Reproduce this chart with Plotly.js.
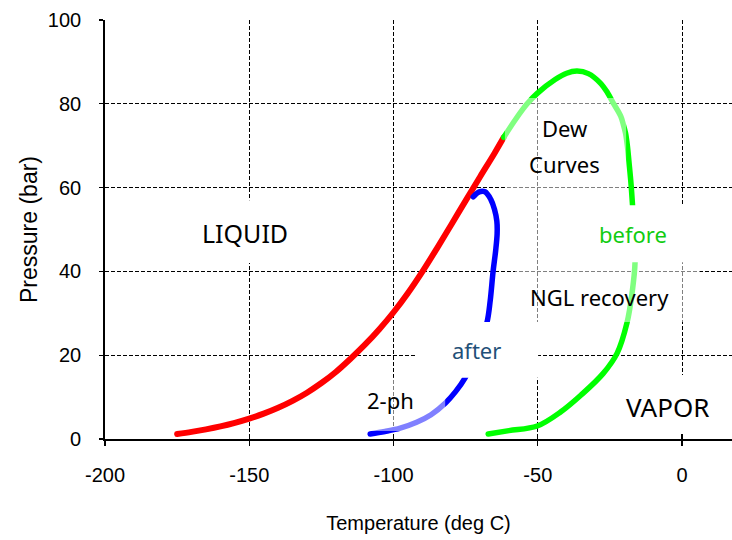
<!DOCTYPE html>
<html>
<head>
<meta charset="utf-8">
<script src="https://cdn.plot.ly/plotly-3.0.1.min.js"></script>
<style>
html,body{margin:0;padding:0;background:#fff;}
#chart{width:732px;height:540px;}
.scatterlayer path.js-line{stroke-linecap:round !important;stroke-linejoin:round !important;}
</style>
</head>
<body>
<div id="chart"></div>
<script>
// Bubble curve (before) - red
const bubbleT = [-175,-170,-165,-160,-155,-150,-145,-140,-135,-130,-125,-120,-115,-110,-105,-100,-95,-90,-85,-80,-75,-70,-65,-61.8];
const bubbleP = [1.2,1.7,2.3,3.0,3.85,4.85,6.05,7.45,9.1,11.05,13.35,16.0,19.1,22.45,26.15,30.25,34.85,39.95,45.45,51.15,56.9,62.6,68.2,72.0];
// Dew curve (before) - green
const dewT = [-67.2,-60,-50.2,-42,-35,-27.4,-22.5,-19.1,-17.3,-16.3,-16.7,-17.6,-18.4,-19.0,-19.6,-20.3,-21.3,-23.8,-25.9,-28.4,-32.5,-36.4,-40,-44,-50.2,-53.7,-57.5,-61.8];
const dewP = [1.2,2,3.1,6.5,10.5,15.6,20.5,27.7,35,42.2,50,60.1,66.1,70.2,73,74.9,77.1,80.1,82.7,85,87.2,87.8,87.3,85.8,82.5,80,76.5,72.0];
// Phase envelope after NGL recovery - blue
const afterT = [-108.1,-103,-97.7,-92,-87,-82,-78.5,-75.2,-72.5,-70,-67.6,-66.5,-65.5,-64.6,-64.1,-64.2,-65,-66.3,-68.3,-70.3,-72.4];
const afterP = [1.2,1.8,2.6,4,5.8,8.6,11.3,14.6,18.5,23,27.9,33,40,45,49,52,54.8,57.2,59,59,57.8];

const xTicks = [-200,-150,-100,-50,0];
const yTicks = [0,20,40,60,80,100];

const axFamily = "'Liberation Sans', Arial, sans-serif";
const tickFont = {family: axFamily, size: 20, color: '#000'};
const annFont = "'Noto Sans', 'Open Sans', sans-serif";

const traces = [
  {x: bubbleT, y: bubbleP, mode: 'lines', line: {color: '#ff0000', width: 6, shape: 'spline', smoothing: 1}, hoverinfo: 'skip'},
  {x: dewT, y: dewP, mode: 'lines', line: {color: '#00ff00', width: 5.5, shape: 'spline', smoothing: 1}, hoverinfo: 'skip'},
  {x: afterT, y: afterP, mode: 'lines', line: {color: '#0000ff', width: 5.5, shape: 'spline', smoothing: 1}, hoverinfo: 'skip'},
  {x: [], y: [], xaxis: 'x2', yaxis: 'y', hoverinfo: 'skip'}
];

const semi = 'rgba(255,255,255,0.5)';
function box(x0, x1, y0, y1, fill) {
  return {type: 'rect', xref: 'x', yref: 'y', x0: x0, x1: x1, y0: y0, y1: y1, fillcolor: fill, line: {width: 0}, layer: 'above'};
}
function txt(t, x, y, size, color) {
  return {text: t, x: x, y: y, xref: 'x', yref: 'y', showarrow: false, xanchor: 'center', yanchor: 'middle', font: {family: annFont, size: size, color: color || '#000'}};
}

const layout = {
  width: 732, height: 540,
  margin: {l: 105, r: 0, t: 20, b: 101, pad: 0},
  paper_bgcolor: '#fff', plot_bgcolor: '#fff',
  showlegend: false,
  xaxis: {
    range: [-200, 17.3], tickvals: xTicks, ticktext: xTicks.map(String),
    showline: true, linecolor: '#000', linewidth: 1.8, ticks: 'outside', ticklen: 5, tickcolor: '#000', tickwidth: 1.2,
    showgrid: true, gridcolor: '#000', gridwidth: 1, griddash: '4px,2px', zeroline: false,
    tickfont: tickFont, ticklabelstandoff: 12,
    title: {text: 'Temperature (deg C)', font: {family: axFamily, size: 20, color: '#000'}, standoff: 31}
  },
  xaxis2: {
    overlaying: 'x', matches: 'x', range: [-200, 17.3], tickvals: xTicks, showticklabels: false,
    ticks: 'inside', ticklen: 5, tickcolor: '#000', tickwidth: 1.2, showgrid: false, zeroline: false, showline: false, side: 'bottom'
  },
  yaxis: {
    range: [0, 100], tickvals: yTicks, ticktext: yTicks.map(String),
    showline: true, linecolor: '#000', linewidth: 1.8, ticks: 'outside', ticklen: 4, tickcolor: '#000', tickwidth: 1.2,
    showgrid: true, gridcolor: '#000', gridwidth: 1, griddash: '4px,2px', zeroline: false,
    tickfont: tickFont, ticklabelstandoff: 14,
    title: {text: 'Pressure (bar)', font: {family: axFamily, size: 23, color: '#000'}, standoff: 4}
  },
  shapes: [
    box(-61.4, -19.4, 43.9, 81.4, semi),
    box(-57.9, 6.2, 27.9, 43.9, semi),
    box(-113.3, -82.1, 1.9, 14.6, semi),
    box(-170.6, -132.4, 42.0, 57.0, '#fff'),
    box(-33.6, 2.8, 42.2, 55.8, '#fff'),
    box(-92.2, -49.9, 14.6, 27.9, '#fff'),
    box(-25.0, 15.9, 1.4, 15.3, '#fff')
  ],
  annotations: [
    txt('LIQUID', -151.5, 49.2, 25),
    txt('VAPOR', -4.9, 7.6, 26),
    txt('Dew', -40.6, 74.2, 22),
    txt('Curves', -40.6, 65.6, 22),
    txt('before', -17.0, 48.9, 22, '#11cc11'),
    txt('NGL recovery', -28.6, 34.0, 22),
    txt('after', -71.1, 21.2, 22, '#1f5078'),
    txt('2-ph', -101.2, 9.3, 22)
  ]
};

Plotly.newPlot('chart', traces, layout, {staticPlot: true, displayModeBar: false});
</script>
</body>
</html>
